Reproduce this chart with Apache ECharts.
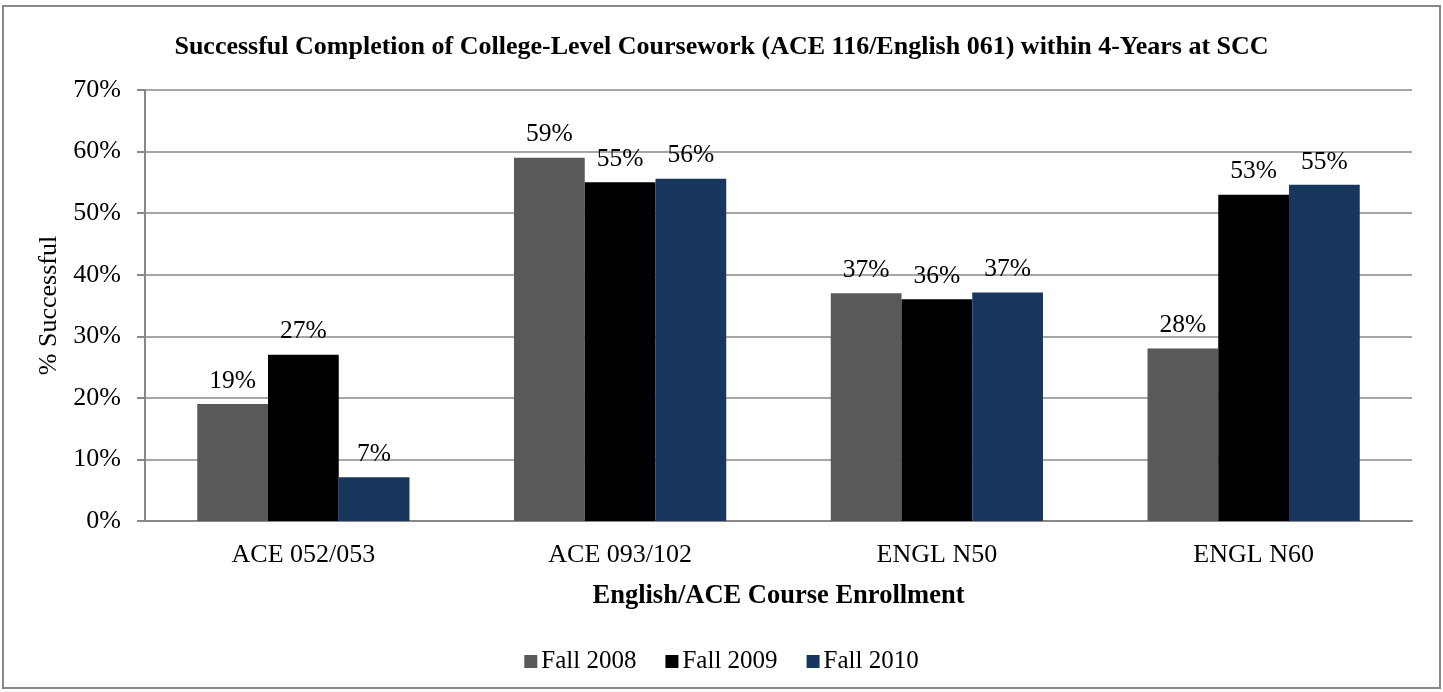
<!DOCTYPE html>
<html>
<head>
<meta charset="utf-8">
<title>Successful Completion of College-Level Coursework</title>
<script src="https://cdn.jsdelivr.net/npm/echarts@6/dist/echarts.min.js"></script>
<style>
  html, body { margin: 0; padding: 0; background: #fff; }
  #chart { width: 1443px; height: 692px; }
</style>
</head>
<body>
<div id="chart"></div>
<script>
// 数据
const categories = ['ACE 052/053', 'ACE 093/102', 'ENGL N50', 'ENGL N60'];
const fall2008 = [0.19, 0.59, 0.37, 0.28];
const fall2009 = [0.27, 0.55, 0.36, 0.53];
const fall2010 = [0.071, 0.556, 0.371, 0.546];
const yTicks = [0, 0.1, 0.2, 0.3, 0.4, 0.5, 0.6, 0.7];

const serif = '"Liberation Serif", "Times New Roman", serif';
const pct = v => Math.round(v * 100) + '%';

let myChart = echarts.init(document.getElementById('chart'));

function bar(name, data, color) {
  return {
    name: name,
    type: 'bar',
    data: data,
    barGap: '0%',
    barCategoryGap: '33%',
    itemStyle: { color: color },
    label: {
      show: true,
      position: 'top',
      distance: 10,
      fontFamily: serif,
      fontSize: 25.5,
      color: '#000',
      formatter: p => pct(p.value)
    }
  };
}

let option = {
  animation: false,
  backgroundColor: '#fff',
  graphic: [{
    type: 'rect',
    shape: { x: 3, y: 6, width: 1437, height: 682 },
    style: { fill: 'none', stroke: '#888', lineWidth: 2 },
    silent: true
  }],
  title: {
    text: 'Successful Completion of College-Level Coursework (ACE 116/English 061) within 4-Years at SCC',
    left: 'center',
    top: 29,
    textStyle: { fontFamily: serif, fontSize: 26, fontWeight: 'bold', color: '#000' }
  },
  legend: {
    left: 'center',
    top: 644,
    itemWidth: 13,
    itemHeight: 13,
    itemGap: 29,
    icon: 'rect',
    textStyle: { fontFamily: serif, fontSize: 25, color: '#000', padding: [0, 0, 0, -1] },
    data: ['Fall 2008', 'Fall 2009', 'Fall 2010']
  },
  grid: { left: 145, right: 31, top: 90, bottom: 171, containLabel: false },
  xAxis: {
    type: 'category',
    data: categories,
    name: 'English/ACE Course Enrollment',
    nameLocation: 'middle',
    nameGap: 62,
    nameTextStyle: { fontFamily: serif, fontSize: 26.5, fontWeight: 'bold', color: '#000' },
    axisLine: { lineStyle: { color: '#888', width: 2 } },
    axisTick: { show: false },
    axisLabel: { fontFamily: serif, fontSize: 26, color: '#000', margin: 21 }
  },
  yAxis: {
    type: 'value',
    min: yTicks[0],
    max: yTicks[yTicks.length - 1],
    interval: 0.1,
    name: '% Successful',
    nameLocation: 'middle',
    nameGap: 83,
    nameTextStyle: { fontFamily: serif, fontSize: 26, color: '#000' },
    axisLine: { show: true, lineStyle: { color: '#888', width: 2 } },
    axisTick: { show: true, length: 8, lineStyle: { color: '#888', width: 2 } },
    splitLine: { lineStyle: { color: '#888', width: 1.5 } },
    axisLabel: { fontFamily: serif, fontSize: 26, color: '#000', margin: 24, formatter: v => pct(v) }
  },
  series: [
    bar('Fall 2008', fall2008, '#595959'),
    bar('Fall 2009', fall2009, '#000000'),
    bar('Fall 2010', fall2010, '#17375E')
  ]
};

myChart.setOption(option);
window.addEventListener('resize', function () {
  myChart.resize();
});
</script>
</body>
</html>
